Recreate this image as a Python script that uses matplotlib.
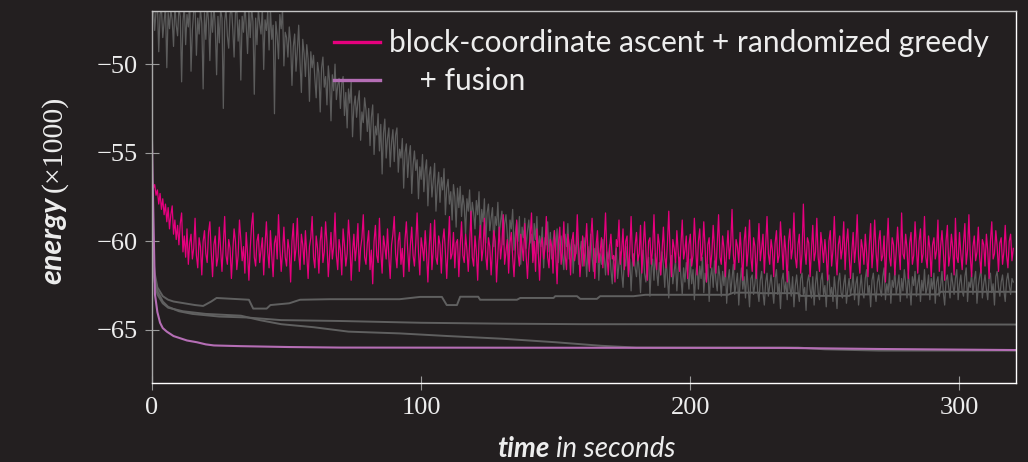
"""
Energy vs. time for block-coordinate ascent variants.
"""

import numpy as np
import matplotlib
matplotlib.use('Agg')
import matplotlib.pyplot as plt
from matplotlib.lines import Line2D


# Data (energy in thousands)
# --------------------------

# block-coordinate ascent + randomized greedy (pink), one sample every 0.5 s
greedy = [
    -56.5, -57.0, -56.8, -57.4, -57.1, -57.9, -57.3, -58.2, -57.6, -58.5,
    -57.9, -58.9, -58.1, -59.3, -58.5, -58.0, -59.6, -58.8, -59.9, -59.1,
    -60.2, -59.0, -58.4, -60.6, -59.7, -60.9, -59.3, -61.3, -60.1, -59.6,
    -61.0, -60.4, -58.7, -60.8, -61.5, -59.8, -60.3, -61.9, -60.0, -59.4,
    -60.7, -61.2, -59.5, -58.9, -60.6, -62.0, -60.2, -59.7, -61.4, -60.9,
    -59.2, -60.5, -61.7, -60.1, -58.6, -60.8, -61.3, -59.9, -60.4, -62.1,
    -60.6, -59.3, -60.0, -61.6, -60.8, -58.8, -59.9, -61.1, -60.3, -61.8,
    -59.5, -60.7, -62.2, -60.4, -59.1, -58.4, -60.9, -61.4, -60.0, -59.6,
    -61.2, -60.5, -59.8, -61.9, -60.2, -58.9, -60.6, -61.5, -59.4, -60.8,
    -62.0, -60.1, -59.7, -61.0, -58.5, -60.3, -61.7, -60.6, -59.2, -60.9,
    -61.4, -59.9, -60.5, -62.3, -60.0, -59.0, -61.1, -60.4, -58.7, -60.7,
    -61.6, -59.6, -60.2, -61.3, -59.4, -60.8, -62.1, -60.3, -59.8, -58.6,
    -60.9, -61.5, -59.7, -60.4, -61.8, -60.0, -59.2, -61.2, -60.6, -58.9,
    -60.1, -62.0, -60.7, -59.5, -61.0, -60.3, -58.4, -60.8, -61.6, -59.9,
    -60.5, -61.9, -59.3, -60.2, -61.4, -60.7, -58.8, -60.0, -62.2, -60.6,
    -59.6, -61.1, -60.3, -59.0, -61.7, -60.4, -59.8, -58.5, -60.9, -61.3,
    -60.1, -59.4, -61.6, -60.5, -62.4, -60.0, -59.1, -60.8, -61.2, -58.7,
    -60.6, -61.8, -59.7, -60.3, -61.0, -59.3, -60.9, -62.1, -60.2, -59.6,
    -58.6, -60.7, -61.5, -60.0, -59.5, -61.3, -60.4, -62.0, -59.9, -58.9,
    -60.5, -61.7, -60.2, -59.2, -60.8, -61.4, -60.1, -58.4, -60.6, -61.9,
    -59.8, -60.4, -61.1, -59.4, -60.7, -62.3, -60.3, -59.0, -61.6, -60.5,
    -58.8, -60.9, -61.3, -59.7, -60.2, -61.8, -60.0, -59.3, -60.6, -62.1,
    -60.4, -58.6, -61.0, -60.7, -59.5, -61.5, -60.1, -59.9, -62.0, -60.3,
    -58.9, -60.8, -61.2, -59.6, -60.5, -61.7, -60.2, -58.3, -60.9, -61.4,
    -59.7, -60.6, -62.2, -60.0, -59.1, -61.1, -60.4, -58.7, -60.8, -61.6,
    -59.8, -60.3, -61.9, -60.5, -59.4, -60.0, -62.3, -60.7, -59.2, -61.0,
    -60.2, -58.5, -61.3, -60.6, -59.9, -61.8, -60.1, -59.5, -60.9, -62.0,
    -60.4, -58.8, -60.7, -61.4, -59.6, -60.3, -61.1, -59.0, -60.8, -62.1,
    -60.5, -59.7, -58.4, -61.2, -60.0, -61.7, -59.3, -60.6, -62.2, -60.2,
    -59.8, -61.0, -60.4, -58.6, -60.9, -61.5, -59.9, -60.3, -61.8, -59.4,
    -60.7, -62.4, -60.1, -59.2, -61.3, -60.5, -58.9, -60.8, -61.6, -59.6,
    -60.2, -61.9, -60.0, -59.5, -61.1, -60.6, -58.5, -60.4, -62.0, -60.9,
    -59.7, -61.4, -60.3, -59.0, -60.8, -61.7, -59.9, -58.7, -60.5, -62.1,
    -60.2, -59.4, -61.2, -60.6, -59.8, -61.5, -60.1, -58.4, -60.7, -61.9,
    -60.4, -59.6, -61.0, -60.8, -62.3, -59.9, -60.3, -58.8, -61.3, -60.5,
    -59.3, -61.6, -60.0, -59.7, -62.0, -60.6, -58.6, -60.9, -61.4, -60.2,
    -59.5, -61.1, -60.7, -59.1, -61.8, -60.3, -58.9, -60.5, -62.2, -60.0,
    -59.8, -61.3, -60.4, -58.5, -60.8, -61.6, -59.6, -60.2, -61.9, -60.6,
    -59.2, -60.9, -61.5, -60.1, -58.3, -60.7, -62.0, -59.9, -60.4, -61.2,
    -59.4, -60.6, -61.7, -60.3, -58.8, -61.0, -60.5, -59.7, -62.1, -60.2,
    -59.6, -61.4, -60.8, -58.7, -60.3, -61.9, -60.0, -59.3, -61.1, -60.6,
    -58.9, -60.4, -62.3, -60.2, -59.8, -61.5, -60.7, -59.1, -60.5, -61.8,
    -60.1, -58.5, -60.9, -61.3, -59.7, -60.4, -62.0, -60.6, -59.4, -61.0,
    -60.2, -58.2, -60.8, -61.6, -59.9, -60.3, -61.2, -59.5, -60.7, -62.2,
    -60.0, -59.2, -61.4, -60.5, -58.8, -60.9, -61.7, -59.8, -60.3, -62.1,
    -60.6, -59.0, -61.1, -60.4, -59.6, -61.8, -60.2, -58.6, -60.7, -61.3,
    -59.9, -60.5, -62.0, -60.1, -59.4, -61.2, -60.8, -58.9, -60.3, -61.6,
    -59.7, -60.6, -62.3, -60.0, -59.3, -61.0, -60.4, -58.4, -60.9, -61.5,
    -60.2, -59.6, -61.8, -60.7, -57.9, -60.4, -61.3, -59.8, -60.1, -62.0,
    -60.5, -59.1, -61.1, -60.6, -58.7, -60.9, -61.7, -59.5, -60.3, -61.2,
    -59.9, -60.8, -62.2, -60.0, -59.4, -61.4, -60.5, -58.6, -60.7, -61.9,
    -60.2, -59.7, -61.0, -60.4, -58.9, -61.6, -60.1, -59.3, -60.8, -62.1,
    -60.6, -59.5, -61.2, -60.3, -58.5, -60.9, -61.8, -59.9, -60.4, -61.3,
    -59.6, -60.7, -62.0, -60.2, -59.0, -61.5, -60.5, -58.8, -60.6, -61.7,
    -60.0, -59.4, -61.1, -60.8, -59.7, -62.3, -60.3, -58.7, -60.9, -61.4,
    -59.8, -60.2, -61.9, -60.6, -59.2, -60.5, -61.6, -58.4, -60.7, -61.0,
    -59.6, -60.4, -62.1, -60.1, -59.5, -61.3, -60.8, -58.9, -60.3, -61.8,
    -60.0, -59.3, -61.2, -60.7, -58.6, -60.9, -61.5, -59.7, -60.4, -62.0,
    -60.2, -59.8, -61.0, -60.5, -58.8, -61.7, -60.3, -59.4, -60.6, -62.2,
    -60.0, -59.1, -61.4, -60.8, -59.6, -60.4, -61.9, -58.7, -60.9, -61.2,
    -59.5, -60.7, -61.6, -60.1, -59.0, -61.3, -60.5, -58.5, -60.8, -62.0,
    -60.3, -59.7, -61.1, -60.6, -59.2, -60.9, -61.8, -59.9, -60.2, -61.4,
    -59.6, -60.5, -62.1, -60.0, -58.9, -61.0, -60.7, -59.4, -60.3, -61.7,
    -60.1, -59.8, -61.3, -60.6, -59.1, -60.8, -61.5, -60.0, -59.6, -61.1,
    -60.4,
]

# slowly converging noisy run (grey), same sampling
noisy = [
    -47.4, -46.6, -48.1, -47.0, -46.5, -49.3, -47.2, -46.8, -48.5, -47.6,
    -46.7, -50.2, -47.1, -48.0, -46.9, -47.5, -49.0, -46.6, -47.8, -48.4,
    -46.8, -47.3, -51.0, -47.6, -46.7, -48.9, -47.2, -47.9, -46.5, -50.4,
    -48.1, -47.0, -46.8, -49.5, -47.4, -48.3, -46.9, -47.7, -51.4, -47.1,
    -48.6, -46.7, -47.5, -49.8, -47.0, -48.2, -46.6, -47.9, -50.6, -47.3,
    -48.8, -46.9, -47.4, -52.5, -47.6, -46.8, -48.4, -49.1, -47.2, -46.7,
    -48.0, -49.6, -47.1, -46.9, -48.7, -47.5, -50.9, -47.3, -48.2, -46.6,
    -47.8, -49.4, -47.0, -48.5, -46.8, -47.6, -51.7, -47.4, -48.9, -46.9,
    -47.7, -48.3, -46.8, -50.3, -47.5, -48.1, -47.0, -49.2, -46.9, -48.6,
    -47.8, -52.8, -47.6, -48.4, -49.7, -47.2, -48.0, -46.9, -50.1, -48.2,
    -48.5, -49.6, -47.9, -48.8, -51.2, -49.0, -48.3, -50.4, -49.2, -47.8,
    -49.9, -51.6, -48.6, -49.4, -50.7, -48.9, -49.7, -52.1, -49.3, -50.2,
    -49.5, -50.8, -51.9, -49.9, -50.5, -52.7, -50.2, -49.6, -51.3, -50.7,
    -52.3, -50.1, -51.0, -53.2, -50.6, -51.5, -50.0, -52.0, -51.2, -50.8,
    -52.5, -51.1, -50.7, -52.9, -51.6, -53.6, -51.4, -52.2, -51.0, -54.1,
    -52.4, -51.8, -53.0, -52.1, -51.5, -54.3, -52.7, -53.3, -51.9, -52.6,
    -53.8, -52.5, -54.6, -53.0, -52.3, -55.1, -53.5, -54.0, -52.8, -54.9,
    -53.4, -56.2, -53.9, -53.1, -55.3, -54.2, -53.6, -55.8, -54.4, -53.7,
    -55.5, -54.0, -53.6, -56.1, -54.8, -55.3, -54.2, -57.0, -55.0, -54.5,
    -56.4, -55.2, -54.6, -57.3, -55.7, -54.9, -56.0, -55.4, -57.6, -55.8,
    -56.5, -55.1, -57.2, -56.0, -55.4, -58.0, -56.3, -55.8, -57.5, -56.6,
    -55.6, -58.3, -56.9, -56.1, -57.8, -56.4, -57.1, -55.9, -58.5, -57.0,
    -56.5, -57.9, -57.2, -58.8, -56.8, -57.5, -59.2, -57.0, -58.1, -56.9,
    -58.6, -57.4, -58.0, -59.6, -57.6, -58.3, -57.1, -59.0, -57.8, -58.4,
    -59.3, -57.7, -58.5, -57.2, -59.8, -58.2, -58.9, -57.6, -60.1, -58.4,
    -57.9, -59.4, -58.7, -58.1, -60.3, -58.6, -59.1, -57.8, -59.7, -58.9,
    -58.3, -60.2, -59.0, -58.5, -59.6, -61.0, -58.8, -59.3, -58.2, -60.5,
    -59.5, -58.9, -60.0, -58.6, -61.3, -59.2, -59.8, -58.7, -60.4, -59.4,
    -58.8, -60.1, -59.6, -61.1, -59.0, -59.9, -58.6, -60.7, -59.7, -60.3,
    -59.2, -61.5, -59.8, -60.2, -58.9, -60.6, -59.5, -61.0, -60.0, -59.4,
    -60.5, -59.3, -61.2, -60.1, -59.7, -60.8, -61.6, -59.6, -60.3, -59.0,
    -61.0, -60.4, -59.9, -61.8, -60.2, -60.7, -59.5, -61.3, -60.6, -60.0,
    -61.4, -59.8, -60.5, -62.0, -60.3, -61.1, -59.6, -60.9, -61.7, -60.4,
    -61.2, -60.0, -62.2, -60.7, -61.3, -59.9, -60.8, -61.9, -60.6, -61.0,
    -60.2, -61.6, -62.4, -60.8, -61.1, -60.4, -62.1, -61.3, -60.6, -61.8,
    -62.6, -60.9, -61.4, -60.3, -61.9, -61.0, -62.8, -61.2, -60.7, -61.5,
    -62.0, -60.8, -61.6, -62.9, -61.1, -60.5, -61.8, -62.3, -61.3, -60.9,
    -63.1, -61.5, -61.0, -62.2, -60.7, -61.7, -62.5, -61.2, -61.9, -60.6,
    -61.4, -62.6, -61.0, -62.1, -63.2, -61.3, -60.8, -62.4, -61.7, -61.1,
    -62.8, -61.6, -60.9, -62.0, -63.0, -61.5, -62.3, -61.2, -61.8, -62.7,
    -61.0, -62.4, -61.6, -63.3, -61.9, -61.2, -62.7, -61.4, -62.1, -60.9,
    -62.9, -61.8, -62.3, -61.3, -63.4, -62.0, -61.5, -62.6, -61.1, -62.2,
    -62.8, -61.4, -62.0, -63.1, -61.7, -62.5, -61.2, -63.5, -62.2, -61.6,
    -62.9, -62.1, -61.3, -63.0, -62.4, -61.8, -63.6, -62.3, -61.5, -62.7,
    -62.0, -63.2, -61.6, -62.6, -63.7, -62.1, -61.9, -63.0, -62.4, -61.4,
    -62.8, -63.4, -62.2, -61.7, -62.9, -63.6, -62.3, -61.8, -63.1, -62.5,
    -61.9, -62.7, -63.5, -62.1, -61.6, -63.0, -62.4, -63.8, -62.2, -61.8,
    -62.9, -62.3, -63.3, -61.7, -62.6, -63.1, -62.0, -63.7, -62.5, -61.9,
    -62.8, -63.4, -62.1, -61.8, -63.0, -62.6, -63.9, -62.3, -61.9, -62.7,
    -63.2, -62.0, -63.6, -62.4, -61.7, -62.9, -63.3, -62.2, -61.8, -63.0,
    -62.5, -63.7, -62.2, -61.9, -63.1, -62.6, -63.4, -62.0, -62.8, -63.8,
    -62.3, -61.8, -62.9, -63.2, -62.4, -61.9, -63.5, -62.7, -62.1, -63.0,
    -62.6, -61.8, -63.3, -62.4, -62.0, -63.6, -62.7, -61.9, -62.9, -63.2,
    -62.1, -61.6, -63.0, -62.5, -63.7, -62.2, -61.8, -62.8, -63.4, -62.3,
    -61.9, -62.7, -63.1, -62.0, -61.5, -63.3, -62.4, -62.9, -61.8, -63.5,
    -62.2, -62.6, -61.7, -63.0, -62.5, -61.9, -63.4, -62.1, -62.8, -61.6,
    -62.3, -63.2, -61.8, -62.6, -63.6, -62.0, -62.5, -61.7, -63.1, -62.4,
    -61.9, -63.4, -62.2, -62.8, -61.6, -63.0, -62.6, -61.9, -63.3, -62.1,
    -62.7, -61.8, -63.5, -62.3, -62.0, -63.1, -62.5, -61.7, -62.9, -63.6,
    -62.2, -61.9, -62.6, -63.2, -61.8, -62.4, -63.0, -62.1, -61.6, -63.3,
    -62.4, -61.9, -62.8, -63.1, -62.0, -61.5, -63.4, -62.3, -62.6, -61.8,
    -63.0, -62.2, -61.7, -63.5, -62.5, -62.0, -61.6, -63.2, -62.4, -61.9,
    -62.7, -63.3, -62.1, -61.8, -62.9, -62.4, -63.6, -62.0, -61.7, -62.6,
    -63.1, -62.3, -61.9, -62.8, -63.4, -62.2, -61.8, -62.5, -63.0, -62.1,
    -62.3,
]

sample_step = 0.5  # seconds between samples of the noisy runs

# smooth grey runs (breakpoints)
run_a_t = [0, 1, 2, 4, 6, 8, 12, 16, 19, 22, 24, 30, 36, 37.6, 42.6, 44,
           51, 55, 66, 92, 99.6, 107.7, 109.5, 113.3, 114.5, 121.2, 121.9,
           135.6, 136.8, 149.2, 149.8, 157.9, 159.1, 165.3, 166.5, 178.9,
           183.3, 214, 216, 225, 226, 240, 241, 259, 260, 292, 293, 321]
run_a_e = [-60.2, -61.8, -62.6, -63.1, -63.3, -63.4, -63.5, -63.6, -63.65,
           -63.4, -63.2, -63.25, -63.3, -63.8, -63.8, -63.6, -63.5, -63.3,
           -63.27, -63.27, -63.14, -63.14, -63.6, -63.6, -63.13, -63.13,
           -63.3, -63.3, -63.2, -63.2, -63.1, -63.1, -63.25, -63.25, -63.1,
           -63.1, -63.02, -63.02, -62.9, -62.9, -62.93, -62.93, -63.08,
           -63.08, -63.0, -63.0, -62.85, -62.85]

run_b_t = [0, 1, 2, 4, 6, 10, 15, 25, 35, 48, 70, 100, 130, 160, 321]
run_b_e = [-60.8, -62.0, -62.8, -63.4, -63.7, -63.95, -64.1, -64.25, -64.3,
           -64.45, -64.5, -64.6, -64.65, -64.68, -64.7]

run_c_t = [0, 1, 2, 4, 6, 11.5, 20, 33, 40, 48, 60, 73, 92, 110, 130, 150,
           167, 180, 240, 250, 270, 321]
run_c_e = [-61.2, -62.3, -63.0, -63.5, -63.75, -63.95, -64.1, -64.2, -64.45,
           -64.68, -64.85, -65.1, -65.2, -65.35, -65.5, -65.7, -65.9, -66.0,
           -66.0, -66.1, -66.17, -66.17]

# + fusion (lilac)
fusion_t = [0, 0.3, 0.7, 1.1, 2, 3, 4, 5.5, 8, 10.4, 13, 16.7, 20, 23, 33,
            51, 70, 235, 270, 321]
fusion_e = [-54.4, -57.0, -60.0, -63.0, -64.0, -64.6, -64.9, -65.1, -65.35,
            -65.47, -65.6, -65.7, -65.82, -65.88, -65.92, -65.97, -66.0,
            -66.02, -66.08, -66.14]

labels = ['block-coordinate ascent + randomized greedy', '    + fusion']


# Plotting
# --------

bg = '#231f20'
pink = '#e6007e'
lilac = '#b56eb5'
grey = '#5c5c5c'
text = '#ededed'

plt.rcParams['font.family'] = ['Liberation Serif', 'DejaVu Serif']

fig = plt.figure(figsize=(10.28, 4.62), dpi=100)
fig.patch.set_facecolor(bg)
ax = fig.add_axes([152/1028, 1-383/462, 864/1028, 372/462])
ax.set_facecolor(bg)

# grey runs first, so coloured runs sit on top
for t, e in [(run_a_t, run_a_e), (run_b_t, run_b_e), (run_c_t, run_c_e)]:
    ax.plot(t, e, color='#606060', lw=1.4, solid_joinstyle='round')
ax.plot(np.arange(len(noisy)) * sample_step, noisy, color=grey, lw=0.9)
ax.plot(np.arange(len(greedy)) * sample_step, greedy, color=pink, lw=0.9)
ax.plot(fusion_t, fusion_e, color=lilac, lw=1.5)

# axes limits and ticks
ax.set_xlim(0, 321)
ax.set_ylim(-68, -47)
ax.set_xticks([0, 100, 200, 300])
ax.set_yticks([-65, -60, -55, -50])
ax.tick_params(direction='inout', length=10, width=0.8, color='#9a9a9a',
               labelsize=19, labelcolor=text, pad=5)
for side, color in [('left', '#a8a8a8'), ('top', '#c4c4c4'),
                    ('right', 'white'), ('bottom', 'white')]:
    ax.spines[side].set_color(color)
    ax.spines[side].set_linewidth(1.0)

# legend with thicker proxy handles
handles = [Line2D([], [], color=pink, lw=2.4),
           Line2D([], [], color=lilac, lw=2.4)]
ax.legend(handles, labels, loc='upper left', bbox_to_anchor=(334/1028, 1-29/462),
          bbox_transform=fig.transFigure, frameon=False, borderpad=0,
          borderaxespad=0, handlelength=1.55, handletextpad=0.28,
          labelspacing=0.35, labelcolor=text,
          prop={'family': 'Lato', 'size': 21.5})

# axis labels, mixed styles
fig.text(61/1028, 1-197/462, 'energy', rotation=90, rotation_mode='anchor',
         ha='right', va='baseline', color=text, family='Lato',
         weight='bold', style='italic', size=22)
fig.text(61/1028, 1-192/462, '(\u00d71000)', rotation=90,
         rotation_mode='anchor', ha='left', va='baseline', color=text,
         size=21.5)
fig.text(550/1028, 5/462, 'time', ha='right', va='baseline', color=text,
         family='Lato', weight='bold', style='italic', size=20)
fig.text(556/1028, 5/462, 'in seconds', ha='left', va='baseline', color=text,
         family='Lato', style='italic', size=20)

fig.savefig('out.png', dpi=100, facecolor=bg)
